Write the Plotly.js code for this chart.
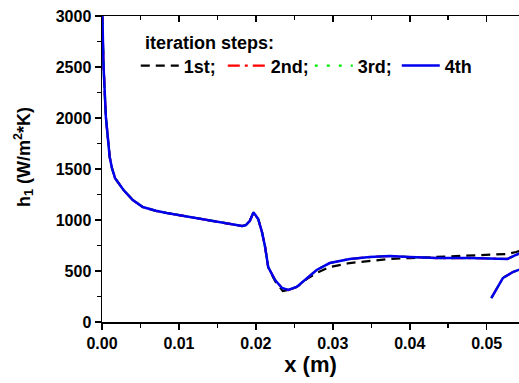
<!DOCTYPE html>
<html>
<head>
<meta charset="utf-8">
<script src="https://cdn.plot.ly/plotly-3.0.1.min.js"></script>
<style>html,body{margin:0;padding:0;background:#fff;}#chart{width:519px;height:383px;}</style>
</head>
<body>
<div id="chart"></div>
<script>
// 4th iteration (also 2nd and 3rd, which coincide with it)
const x4 = [0, 0.0002, 0.0005, 0.001, 0.0013, 0.0017, 0.0028, 0.0040, 0.0053, 0.0070, 0.0084, 0.0105, 0.0127, 0.0150, 0.0170, 0.0182, 0.0187, 0.0192, 0.0197, 0.0203, 0.0208, 0.0212, 0.0216, 0.0225, 0.0234, 0.0242, 0.0253, 0.0266, 0.0279, 0.0296, 0.0322, 0.0348, 0.0374, 0.0400, 0.0435, 0.0478, 0.0510, 0.0527, 0.0538, 0.0545, null, 0.0506, 0.0513, 0.0521, 0.0534, 0.0545];
const h4 = [3150, 2510, 2013, 1618, 1507, 1409, 1294, 1196, 1127, 1090, 1069, 1040, 1010, 980, 951, 941, 950, 990, 1075, 1010, 880, 735, 539, 412, 333, 314, 343, 431, 510, 578, 618, 637, 647, 637, 627, 627, 622, 618, 657, 680, null, 235, 333, 431, 490, 520];
// 1st iteration
const x1 = [0, 0.0002, 0.0005, 0.001, 0.0013, 0.0017, 0.0028, 0.0040, 0.0053, 0.0070, 0.0084, 0.0105, 0.0127, 0.0150, 0.0170, 0.0182, 0.0187, 0.0192, 0.0197, 0.0203, 0.0208, 0.0212, 0.0216, 0.0225, 0.0235, 0.0245, 0.0255, 0.0266, 0.0279, 0.0296, 0.0322, 0.0348, 0.0374, 0.0400, 0.0435, 0.0478, 0.0527, 0.0538, 0.0545];
const h1 = [3150, 2510, 2013, 1618, 1507, 1409, 1294, 1196, 1127, 1090, 1069, 1040, 1010, 980, 951, 941, 950, 990, 1075, 1010, 880, 735, 539, 400, 304, 318, 352, 420, 480, 539, 578, 598, 618, 627, 637, 647, 667, 686, 700];
const seriesNames = ['1st;', '2nd;', '3rd;', '4th'];
const legendHeading = 'iteration steps:';
const xTitle = 'x (m)';
const yTitle = 'h<sub>1</sub> (W/m<sup>2</sup>*K)';
const xTicks = [0, 0.01, 0.02, 0.03, 0.04, 0.05];
const xTickText = ['0.00', '0.01', '0.02', '0.03', '0.04', '0.05'];
const yTicks = [0, 500, 1000, 1500, 2000, 2500, 3000];

const F = 'Liberation Sans, Arial, sans-serif';
const traces = [
  {x: x1, y: h1, name: seriesNames[0], mode: 'lines', line: {color: '#000', width: 2.2, dash: '9px,6px'}},
  {x: x4, y: h4, name: seriesNames[1], mode: 'lines', line: {color: '#ff0000', width: 2.2, dash: '12px,5px,3px,5px'}},
  {x: x4, y: h4, name: seriesNames[2], mode: 'lines', line: {color: '#00ee00', width: 2.2, dash: '3px,9px'}},
  {x: x4, y: h4, name: seriesNames[3], mode: 'lines', line: {color: '#0000ee', width: 2.5}, xaxis: 'x2', connectgaps: false}
];
const axFont = {family: F, size: 16, color: '#000', weight: 'bold'};
const layout = {
  width: 519, height: 383,
  margin: {l: 102, r: 0, t: 16, b: 61},
  paper_bgcolor: '#fff', plot_bgcolor: '#fff',
  showlegend: true,
  legend: {
    orientation: 'h', x: 0.081, y: 0.837, xanchor: 'left', yanchor: 'middle',
    bgcolor: 'rgba(0,0,0,0)',
    font: {family: F, size: 18, color: '#000', weight: 'bold'},
    entrywidth: 34, entrywidthmode: 'pixels', itemwidth: 38, tracegroupgap: 0
  },
  annotations: [{
    text: legendHeading, xref: 'paper', yref: 'paper', x: 0.098, y: 0.912,
    xanchor: 'left', yanchor: 'middle', showarrow: false,
    font: {family: F, size: 18, color: '#000', weight: 'bold'}
  }, {
    text: yTitle, xref: 'paper', yref: 'paper', x: -0.1894, y: 0.539,
    xanchor: 'center', yanchor: 'middle', showarrow: false, textangle: -90,
    font: {family: F, size: 18, color: '#000', weight: 'bold'}
  }],
  xaxis: {
    range: [0, 0.0542], tickvals: xTicks, ticktext: xTickText,
    ticks: 'outside', ticklen: 6, tickwidth: 1.5, tickcolor: '#000',
    minor: {dtick: 0.005, tick0: 0, ticks: 'outside', ticklen: 4, tickwidth: 1.5, tickcolor: '#000', showgrid: false},
    showline: true, linecolor: '#000', linewidth: 1.5, showgrid: false, zeroline: false,
    tickfont: axFont,
    title: {text: xTitle, font: {family: F, size: 22, color: '#000', weight: 'bold'}, standoff: 0}
  },
  xaxis2: {
    overlaying: 'x', side: 'top', matches: 'x', anchor: 'y',
    tickvals: xTicks, showticklabels: false,
    ticks: 'inside', ticklen: 6, tickwidth: 1.5, tickcolor: '#000',
    minor: {dtick: 0.005, tick0: 0, ticks: 'inside', ticklen: 4, tickwidth: 1.5, tickcolor: '#000', showgrid: false},
    showline: true, linecolor: '#000', linewidth: 1.5, showgrid: false, zeroline: false
  },
  yaxis: {
    range: [0, 3000], tickvals: yTicks,
    ticks: 'outside', ticklen: 6, tickwidth: 1.5, tickcolor: '#000',
    minor: {dtick: 250, tick0: 0, ticks: 'outside', ticklen: 4, tickwidth: 1.5, tickcolor: '#000', showgrid: false},
    showline: true, linecolor: '#000', linewidth: 1.5, showgrid: false, zeroline: false,
    tickfont: axFont
  }
};
Plotly.newPlot('chart', traces, layout, {displayModeBar: false, staticPlot: true});
</script>
</body>
</html>
